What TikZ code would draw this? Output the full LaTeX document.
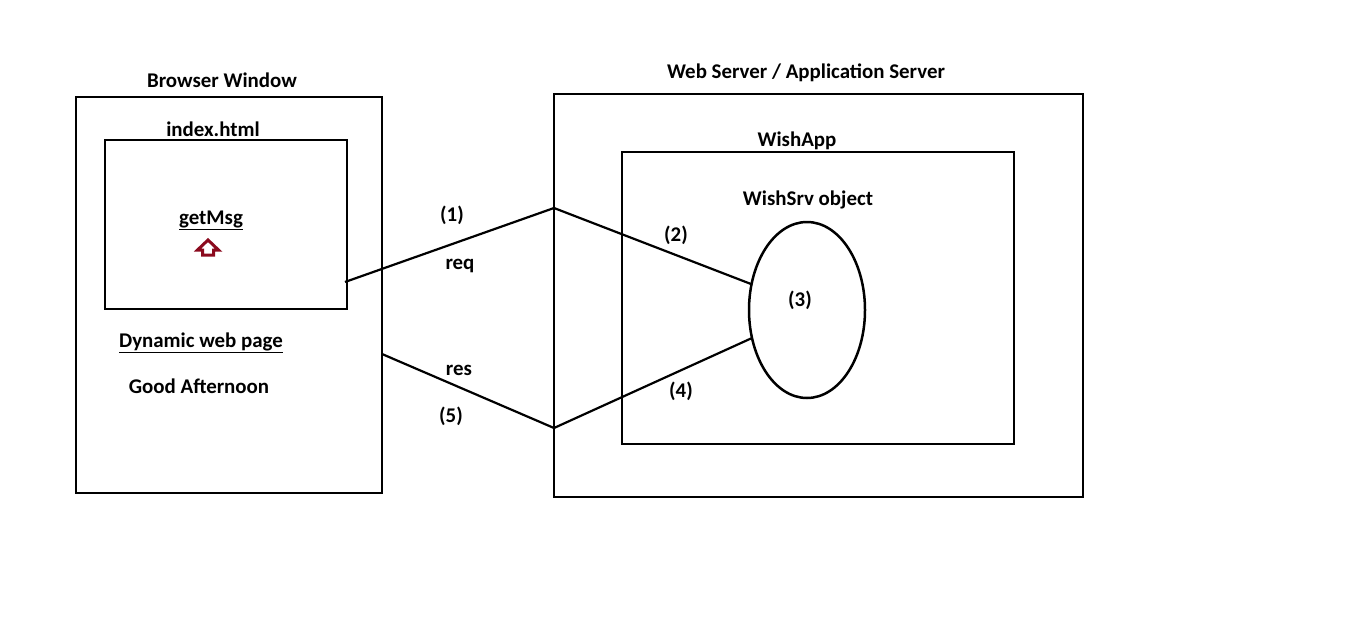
\documentclass[tikz,border=0pt]{standalone}
\usepackage{fontspec}
\setmainfont{Carlito}
\usetikzlibrary{shapes.geometric}
\definecolor{arrred}{HTML}{8B0A1E}
\begin{document}
\begin{tikzpicture}[x=1pt,y=-1pt,
  box/.style={draw,line width=2.5pt},
  lbl/.style={font=\fontsize{20.9}{24}\selectfont\bfseries,inner sep=0pt},
  wire/.style={line width=2.2pt}]
\useasboundingbox (0,0) rectangle (1360,618);
% boxes
\draw[box] (76,97) rectangle (382,493);
\draw[box] (105,140) rectangle (347,309);
\draw[box] (554,94) rectangle (1083,497);
\draw[box] (622,152) rectangle (1014,444);
\node[draw,ellipse,line width=2.5pt,minimum width=116pt,minimum height=176pt,inner sep=0pt] (obj) at (807,310) {};
% coordinates
\coordinate (pg) at (345,282);
\coordinate (bw) at (382,354);
\coordinate (s1) at (554,208);
\coordinate (s2) at (554,428);
\coordinate (e1) at (751,284);
\coordinate (e2) at (752,338);
\draw[wire] (pg) -- (s1) -- (e1);
\draw[wire] (bw) -- (s2) -- (e2);
% labels
\node[lbl] (tbw) at (222,80) {Browser Window};
\node[lbl] (tidx) at (213,129) {index.html};
\node[lbl] (tget) at (211,220) {\underline{getMsg}};
\node[lbl] (tdyn) at (201,343) {\underline{Dynamic web page}};
\node[lbl] (tgood) at (199,386) {Good Afternoon};
\node[lbl] (tws) at (806,73) {Web Server / Application Server};
\node[lbl] (twa) at (797,141) {WishApp};
\node[lbl] (tobj) at (808,200) {WishSrv object};
\node[lbl] (n1) at (452,215) {(1)};
\node[lbl] (nreq) at (460,266) {req};
\node[lbl] (n2) at (676,235) {(2)};
\node[lbl] (n3) at (800,300) {(3)};
\node[lbl] (n4) at (681,391) {(4)};
\node[lbl] (nres) at (459,370) {res};
\node[lbl] (n5) at (451,416) {(5)};
% up arrow icon
\draw[arrred,line width=3pt,line join=miter] (208,240) -- (218.5,250) -- (213.5,250) -- (213.5,255) -- (202.5,255) -- (202.5,250) -- (197.5,250) -- cycle;
\end{tikzpicture}
\end{document}
